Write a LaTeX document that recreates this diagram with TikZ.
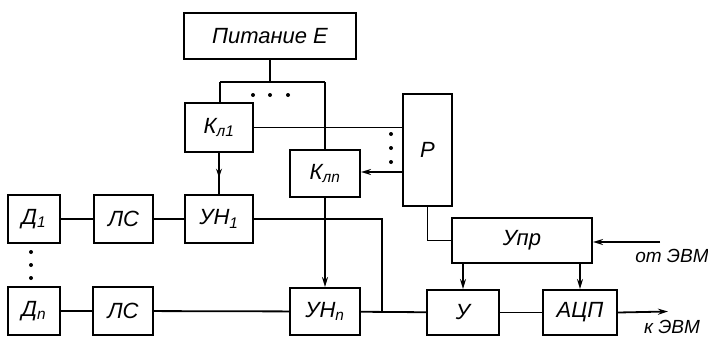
\documentclass[tikz,border=0pt]{standalone}
\usepackage{fontspec}
\setmainfont{Liberation Sans}
\usetikzlibrary{arrows.meta,decorations.markings}
\begin{document}
\begin{tikzpicture}[x=1pt,y=-1pt,
  blk/.style={draw,line width=2pt,minimum width=#1,inner sep=0pt,font=\itshape\fontsize{22}{22}\selectfont},
  conn/.style={line width=1.8pt},
  arr/.style={conn,-{Stealth[length=10pt,width=6pt]}},
  midarr/.style={conn,postaction={decorate},decoration={markings,mark=at position 0.6 with {\arrow{Stealth[length=9pt,width=6pt]}}}},
  dotm/.style={circle,fill,inner sep=0pt,minimum size=4pt},
  lbl/.style={font=\itshape\fontsize{19}{19}\selectfont}]
\useasboundingbox (0,0) rectangle (708,337);
% blocks
\node[blk=172pt,minimum height=46pt] (pit) at (270,36) {Питание E};
\node[blk=68pt,minimum height=49pt] (k1) at (219,127.5) {К\textsubscript{л1}};
\node[blk=70pt,minimum height=47pt] (kn) at (325,173.5) {К\textsubscript{лn}};
\node[blk=49pt,minimum height=112pt] (p) at (427.5,150) {Р};
\node[blk=52pt,minimum height=48pt] (d1) at (34,219) {Д\textsubscript{1}};
\node[blk=59pt,minimum height=48pt] (ls1) at (123.5,219) {ЛС};
\node[blk=68pt,minimum height=48pt] (uh1) at (219,219) {УН\textsubscript{1}};
\node[blk=52pt,minimum height=48pt] (dn) at (34,311) {Д\textsubscript{n}};
\node[blk=60pt,minimum height=48pt] (lsn) at (123,311) {ЛС};
\node[blk=70pt,minimum height=47pt] (uhn) at (325,311.5) {УН\textsubscript{n}};
\node[blk=72pt,minimum height=45pt] (u) at (463,312.5) {У};
\node[blk=74pt,minimum height=45pt] (adc) at (580,312.5) {АЦП};
\node[blk=140pt,minimum height=45pt] (upr) at (522,240.5) {Упр};
% coordinates
\coordinate (ptop) at (270,82);
\coordinate (pl) at (220,82);
\coordinate (pr) at (325,82);
\coordinate (jn) at (382,311.5);
\coordinate (out) at (668,311.5);
\coordinate (inp) at (660,242);
% power distribution
\draw[conn] (pit.south) -- (ptop);
\draw[conn] (pl) -- (pr);
\draw[conn] (pl) -- (k1.north -| pl);
\draw[conn] (pr) -- (kn.north);
\node[dotm] (pd1) at (253,95) {};
\node[dotm] (pd2) at (270,95) {};
\node[dotm] (pd3) at (288,95) {};
% relay
\draw[conn] (k1.east) -- (k1.east -| p.west);
\node[dotm] (rd1) at (391,134) {};
\node[dotm] (rd2) at (391,148) {};
\node[dotm] (rd3) at (391,162) {};
\draw[arr] (p.west |- 0,172) -- (kn.east |- 0,172);
\draw[midarr] (k1.south) -- (uh1.north);
\draw[arr] (kn.south) -- (uhn.north);
% row 1
\draw[conn] (d1) -- (ls1);
\draw[conn] (ls1) -- (uh1);
\draw[conn] (uh1.east) -| (jn);
% dots
\node[dotm] (dd1) at (31,252) {};
\node[dotm] (dd2) at (31,265) {};
\node[dotm] (dd3) at (31,278) {};
% row n
\draw[conn] (dn) -- (lsn);
\draw[conn] (lsn) -- (uhn);
\draw[conn] (uhn) -- (u);
\draw[conn] (u) -- (adc);
\draw[arr] (adc.east) -- (out);
% control
\draw[conn] (p.south) |- (upr.west);
\draw[arr] (upr.south -| u.north) -- (u.north);
\draw[arr] (upr.south -| adc.north) -- (adc.north);
\draw[arr] (inp) -- (upr.east |- inp);
\node[lbl] (ot) at (672,256) {от ЭВМ};
\node[lbl] (k) at (672,327) {к ЭВМ};
\end{tikzpicture}
\end{document}
